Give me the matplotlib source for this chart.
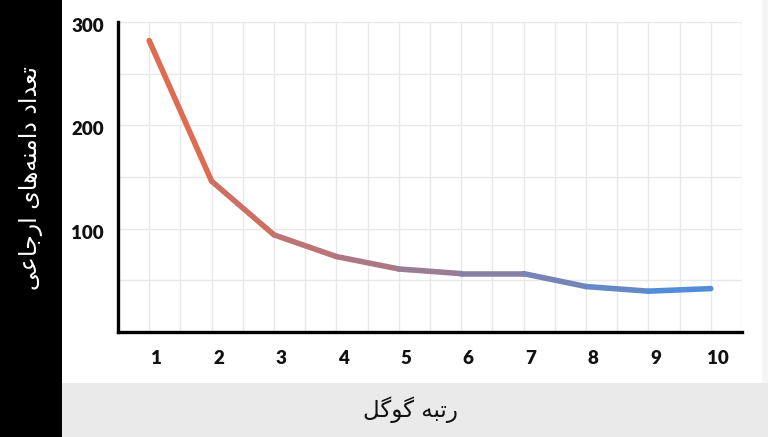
import numpy as np
import matplotlib.pyplot as plt
from matplotlib.collections import LineCollection
from matplotlib.colors import LinearSegmentedColormap
from matplotlib.patches import Rectangle
import matplotlib.transforms as mtransforms

# Google rank vs referring domains
ranks = [1, 2, 3, 4, 5, 6, 7, 8, 9, 10]
domains = [282, 146, 94, 73, 61, 56.5, 56.5, 44, 39.5, 42]
y_ticks = [100, 200, 300]
x_title = "رتبه گوگل"
y_title = "تعداد دامنه\u200cهای ارجاعی"

# minimal persian shaping (matplotlib has no complex text layout)
FORMS = {
    'ا': ('\uFE8D', '\uFE8E', None, None),
    'ب': ('\uFE8F', '\uFE90', '\uFE91', '\uFE92'),
    'ت': ('\uFE95', '\uFE96', '\uFE97', '\uFE98'),
    'ج': ('\uFE9D', '\uFE9E', '\uFE9F', '\uFEA0'),
    'د': ('\uFEA9', '\uFEAA', None, None),
    'ر': ('\uFEAD', '\uFEAE', None, None),
    'ع': ('\uFEC9', '\uFECA', '\uFECB', '\uFECC'),
    'گ': ('\uFB92', '\uFB93', '\uFB94', '\uFB95'),
    'ل': ('\uFEDD', '\uFEDE', '\uFEDF', '\uFEE0'),
    'م': ('\uFEE1', '\uFEE2', '\uFEE3', '\uFEE4'),
    'ن': ('\uFEE5', '\uFEE6', '\uFEE7', '\uFEE8'),
    'ه': ('\uFEE9', '\uFEEA', '\uFEEB', '\uFEEC'),
    'و': ('\uFEED', '\uFEEE', None, None),
    'ی': ('\uFBFC', '\uFBFD', '\uFBFE', '\uFBFF'),
}


def shape(text):
    out = []
    for i, ch in enumerate(text):
        if ch not in FORMS:
            if ch != '\u200c':
                out.append(ch)
            continue
        prev = text[i - 1] if i > 0 else ''
        nxt = text[i + 1] if i + 1 < len(text) else ''
        join_prev = prev in FORMS and FORMS[prev][2] is not None
        join_next = nxt in FORMS and FORMS[ch][2] is not None
        iso, fin, ini, med = FORMS[ch]
        if join_prev and join_next:
            out.append(med)
        elif join_prev:
            out.append(fin)
        elif join_next:
            out.append(ini)
        else:
            out.append(iso)
    return ''.join(reversed(out))


fig = plt.figure(figsize=(7.68, 4.37), dpi=100)
fig.patch.set_facecolor('white')

# side and bottom bands
fig.add_artist(Rectangle((0, 0), 62 / 768, 1, transform=fig.transFigure,
                         facecolor='black', edgecolor='none', zorder=0))
fig.add_artist(Rectangle((62 / 768, 0), 1, 54 / 437, transform=fig.transFigure,
                         facecolor='#eaeaea', edgecolor='none', zorder=0))
fig.add_artist(Rectangle((762 / 768, 54 / 437), 6 / 768, 1, transform=fig.transFigure,
                         facecolor='#f5f5f5', edgecolor='none', zorder=0))

ax = fig.add_axes([118 / 768, 1 - 332 / 437, (742 - 118) / 768, (332 - 22) / 437])
ax.set_facecolor('white')

cmap = LinearSegmentedColormap.from_list('rank', ['#e8694a', '#4a8fe0'])
pts = np.column_stack([ranks, domains])
segs = np.stack([pts[:-1], pts[1:]], axis=1)
mids = (np.array(ranks[:-1]) + np.array(ranks[1:])) / 2
lc = LineCollection(segs, colors=cmap((mids - 1) / 9), linewidths=4.0,
                    capstyle='round', joinstyle='round', zorder=3)
ax.add_collection(lc)

ax.set_xlim(0.5, 10.5)
ax.set_ylim(0, 300)
ax.set_xticks(ranks)
ax.set_yticks(y_ticks)
ax.set_xticks(np.arange(0.5, 10.6, 0.5), minor=True)
ax.set_yticks(np.arange(0, 301, 50), minor=True)
ax.grid(which='both', color='#e8e8e8', linewidth=1)
ax.tick_params(which='both', length=0)
ax.tick_params(axis='x', pad=13)
ax.tick_params(axis='y', pad=10)
for lab in ax.get_xticklabels() + ax.get_yticklabels():
    lab.set_fontfamily('Lato')
    lab.set_fontweight('heavy')
    lab.set_fontsize(13.5)
    lab.set_color('#111111')
shift = mtransforms.ScaledTranslation(7 / 100, 0, fig.dpi_scale_trans)
for lab in ax.get_xticklabels():
    lab.set_transform(lab.get_transform() + shift)
down = mtransforms.ScaledTranslation(0, -3 / 100, fig.dpi_scale_trans)
for lab in ax.get_yticklabels():
    lab.set_transform(lab.get_transform() + down)

for side in ['top', 'right']:
    ax.spines[side].set_visible(False)
for side in ['left', 'bottom']:
    ax.spines[side].set_linewidth(2.4)
    ax.spines[side].set_color('black')

fig.text(31 / 768, 1 - 178 / 437, shape(y_title), rotation=90, color='white',
         fontsize=17, family='DejaVu Sans', ha='center', va='center')
fig.text(410 / 768, 1 - 410 / 437, shape(x_title), color='#111111',
         fontsize=16.5, family='DejaVu Sans', ha='center', va='center')

fig.savefig('out.png', dpi=100)
